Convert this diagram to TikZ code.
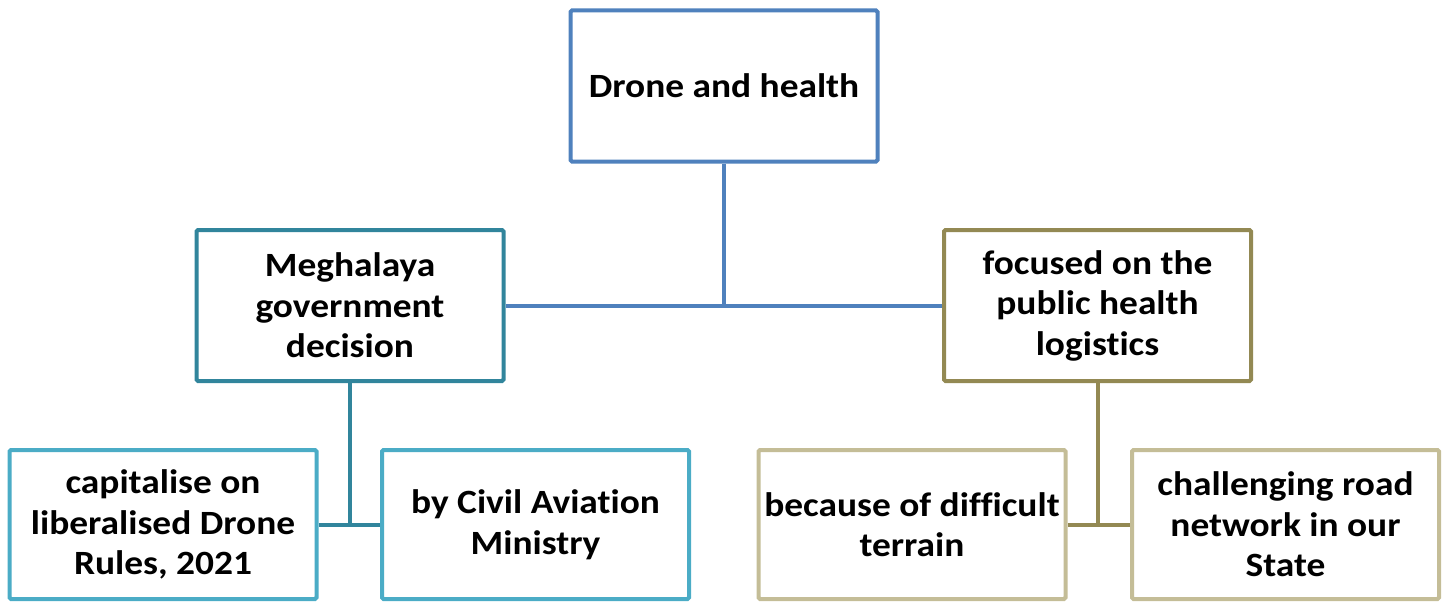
\documentclass[tikz,border=0pt]{standalone}
\usepackage{fontspec}
\setmainfont{Carlito}[FakeStretch=1.1, Ligatures=NoCommon]
\usetikzlibrary{backgrounds}
\definecolor{topblue}{HTML}{4F81BD}
\definecolor{teal}{HTML}{31859C}
\definecolor{lightteal}{HTML}{4BACC6}
\definecolor{olive}{HTML}{938953}
\definecolor{sand}{HTML}{C4BD97}
\tikzset{
  box/.style={draw, line width=4pt, fill=white, rounded corners=1.5pt, align=center,
    minimum width=307pt, minimum height=151pt, inner sep=0pt,
    font=\fontsize{34}{40.5}\selectfont\bfseries},
  conn/.style={line width=4pt}
}
\begin{document}
\begin{tikzpicture}[x=1pt,y=-1pt]
\useasboundingbox (0,0) rectangle (1448,602);
\node[box, draw=topblue] (top) at (724,86) {Drone and health};
\node[box, draw=teal] (meg) at (350,305.5) {Meghalaya\\government\\decision};
\node[box, draw=olive] (foc) at (1097.5,305.5) {focused on the\\public health\\logistics};
\node[box, draw=lightteal, minimum height=149pt] (cap) at (163,524.5) {capitalise on\\liberalised Drone\\Rules, 2021};
\node[box, draw=lightteal, minimum height=149pt] (civ) at (535.5,524.5) {by Civil Aviation\\Ministry};
\node[box, draw=sand, minimum height=149pt] (bec) at (912,524.5) {because of difficult\\terrain};
\node[box, draw=sand, minimum height=149pt] (cha) at (1285.5,524.5) {challenging road\\network in our\\State};
\begin{scope}[on background layer]
\draw[conn, topblue] (top.south) -- (top.south |- meg.east);
\draw[conn, topblue] (meg.east) -- (foc.west);
\draw[conn, teal] (meg.south) -- (meg.south |- cap.east);
\draw[conn, teal] (cap.east) -- (civ.west);
\draw[conn, olive] (foc.south) -- (foc.south |- bec.east);
\draw[conn, olive] (bec.east) -- (cha.west);
\end{scope}
\end{tikzpicture}
\end{document}
